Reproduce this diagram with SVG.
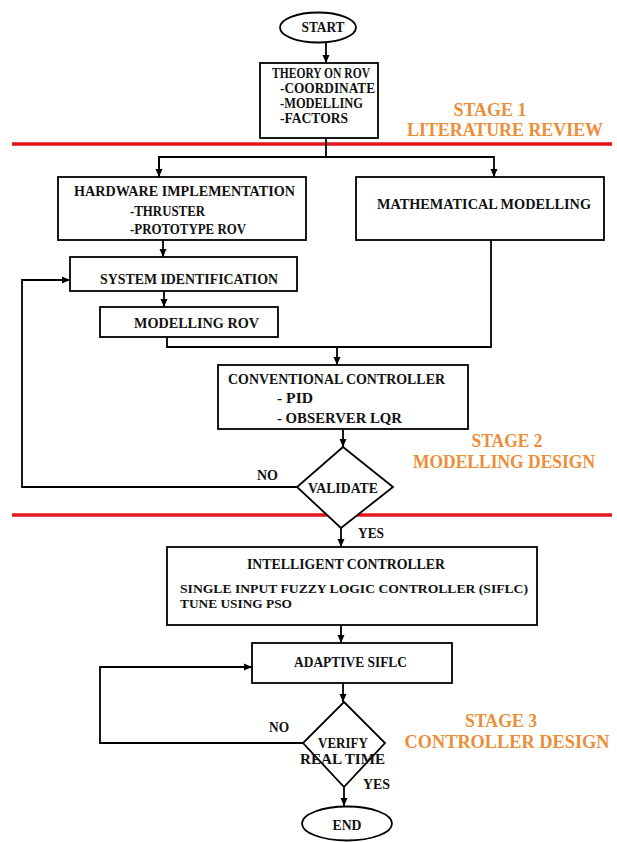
<svg xmlns="http://www.w3.org/2000/svg" width="617" height="842" viewBox="0 0 617 842">
<defs>
<marker id="arr" markerWidth="8" markerHeight="8" refX="8" refY="4" orient="auto" markerUnits="userSpaceOnUse">
<path d="M0,0.5 L8,4 L0,7.5 z" fill="#000"/>
</marker>
<style>
.box{fill:#fff;stroke:#000;stroke-width:1.8}
.t{font-family:"Liberation Serif","Times New Roman",serif;font-weight:bold;font-size:14.5px;fill:#111}
.s{font-size:13px}
.c{text-anchor:middle}
.st{font-family:"Liberation Serif","Times New Roman",serif;font-weight:bold;font-size:19px;fill:#EC8E38;text-anchor:middle}
.ln{fill:none;stroke:#000;stroke-width:1.8}
.red{stroke:#E3161E;stroke-width:3.5}
</style>
</defs>
<rect width="617" height="842" fill="#fff"/>

<g id="separators">
<line class="red" x1="12" y1="144" x2="612" y2="144"/>
<line class="red" x1="12" y1="515" x2="612" y2="515"/>
</g>

<g id="connectors">
<line class="ln" x1="326" y1="42" x2="326" y2="63" marker-end="url(#arr)"/>
<polyline class="ln" points="326,138 326,157"/>
<polyline class="ln" points="159,177 159,157 494,157 494,177" marker-end="url(#arr)"/>
<line class="ln" x1="159" y1="157" x2="159" y2="177" marker-end="url(#arr)"/>
<line class="ln" x1="163" y1="240" x2="163" y2="257" marker-end="url(#arr)"/>
<line class="ln" x1="164" y1="291" x2="164" y2="307" marker-end="url(#arr)"/>
<polyline class="ln" points="167,337 167,347 491,347 491,240"/>
<line class="ln" x1="337" y1="347" x2="337" y2="365" marker-end="url(#arr)"/>
<line class="ln" x1="343" y1="429" x2="343" y2="447" marker-end="url(#arr)"/>
<polyline class="ln" points="297,487 22,487 22,280 70,280" marker-end="url(#arr)"/>
<line class="ln" x1="341" y1="528" x2="341" y2="547" marker-end="url(#arr)"/>
<line class="ln" x1="341" y1="625" x2="341" y2="643" marker-end="url(#arr)"/>
<line class="ln" x1="343" y1="683" x2="343" y2="702" marker-end="url(#arr)"/>
<polyline class="ln" points="303,743 100,743 100,667 252,667" marker-end="url(#arr)"/>
<line class="ln" x1="344" y1="787" x2="344" y2="806" marker-end="url(#arr)"/>
<text class="t" x="257" y="480" textLength="21" lengthAdjust="spacingAndGlyphs">NO</text>
<text class="t" x="358" y="538" textLength="26" lengthAdjust="spacingAndGlyphs">YES</text>
<text class="t" x="269" y="732" textLength="20" lengthAdjust="spacingAndGlyphs">NO</text>
<text class="t" x="363" y="789" textLength="27" lengthAdjust="spacingAndGlyphs">YES</text>
</g>

<g id="start">
<ellipse class="box" cx="318" cy="27.5" rx="38" ry="15"/>
<text class="t c" x="323" y="32" textLength="43" lengthAdjust="spacingAndGlyphs">START</text>
</g>

<g id="theory">
<rect class="box" x="260" y="63" width="118" height="75"/>
<text class="t" x="272" y="78" textLength="98" lengthAdjust="spacingAndGlyphs">THEORY ON ROV</text>
<text class="t" x="280" y="93" textLength="95" lengthAdjust="spacingAndGlyphs">-COORDINATE</text>
<text class="t" x="280" y="108" textLength="83" lengthAdjust="spacingAndGlyphs">-MODELLING</text>
<text class="t" x="280" y="123" textLength="68" lengthAdjust="spacingAndGlyphs">-FACTORS</text>
</g>

<g id="stage1">
<text class="st" x="490" y="116" textLength="73" lengthAdjust="spacingAndGlyphs">STAGE 1</text>
<text class="st" x="505" y="136" textLength="196" lengthAdjust="spacingAndGlyphs">LITERATURE REVIEW</text>
</g>

<g id="hardware">
<rect class="box" x="58" y="177" width="248" height="63"/>
<text class="t" x="74" y="196" textLength="221" lengthAdjust="spacingAndGlyphs">HARDWARE IMPLEMENTATION</text>
<text class="t" x="130" y="216" textLength="75" lengthAdjust="spacingAndGlyphs">-THRUSTER</text>
<text class="t" x="130" y="234" textLength="116" lengthAdjust="spacingAndGlyphs">-PROTOTYPE ROV</text>
</g>

<g id="math">
<rect class="box" x="356" y="177" width="248" height="63"/>
<text class="t" x="377" y="209" textLength="214" lengthAdjust="spacingAndGlyphs">MATHEMATICAL MODELLING</text>
</g>

<g id="sysid">
<rect class="box" x="70" y="257" width="227" height="34"/>
<text class="t" x="100" y="284" textLength="178" lengthAdjust="spacingAndGlyphs">SYSTEM IDENTIFICATION</text>
</g>

<g id="modrov">
<rect class="box" x="100" y="307" width="178" height="30"/>
<text class="t" x="134" y="328" textLength="125" lengthAdjust="spacingAndGlyphs">MODELLING ROV</text>
</g>

<g id="conventional">
<rect class="box" x="218" y="365" width="250" height="64"/>
<text class="t" x="228" y="384" textLength="217" lengthAdjust="spacingAndGlyphs">CONVENTIONAL CONTROLLER</text>
<text class="t" x="277" y="403" textLength="36" lengthAdjust="spacingAndGlyphs">- PID</text>
<text class="t" x="277" y="423" textLength="125" lengthAdjust="spacingAndGlyphs">- OBSERVER LQR</text>
</g>

<g id="validate">
<polygon class="box" points="343,447 393,487 341,528 297,487"/>
<text class="t" x="308" y="493" textLength="70" lengthAdjust="spacingAndGlyphs">VALIDATE</text>
</g>

<g id="stage2">
<text class="st" x="507" y="447" textLength="71" lengthAdjust="spacingAndGlyphs">STAGE 2</text>
<text class="st" x="504" y="468" textLength="182" lengthAdjust="spacingAndGlyphs">MODELLING DESIGN</text>
</g>

<g id="intelligent">
<rect class="box" x="167" y="547" width="370" height="78"/>
<text class="t" x="247" y="569" textLength="198" lengthAdjust="spacingAndGlyphs">INTELLIGENT CONTROLLER</text>
<text class="t s" x="180" y="593" textLength="348" lengthAdjust="spacingAndGlyphs">SINGLE INPUT FUZZY LOGIC CONTROLLER (SIFLC)</text>
<text class="t s" x="180" y="608" textLength="112" lengthAdjust="spacingAndGlyphs">TUNE USING PSO</text>
</g>

<g id="adaptive">
<rect class="box" x="252" y="643" width="200" height="40"/>
<text class="t" x="294" y="667" textLength="113" lengthAdjust="spacingAndGlyphs">ADAPTIVE SIFLC</text>
</g>

<g id="verify">
<polygon class="box" points="344,702 385,743 344,787 303,743"/>
<text class="t" x="318" y="748" textLength="50" lengthAdjust="spacingAndGlyphs">VERIFY</text>
<text class="t" x="300" y="764" textLength="85" lengthAdjust="spacingAndGlyphs">REAL TIME</text>
</g>

<g id="stage3">
<text class="st" x="501" y="727" textLength="72" lengthAdjust="spacingAndGlyphs">STAGE 3</text>
<text class="st" x="507" y="748" textLength="205" lengthAdjust="spacingAndGlyphs">CONTROLLER DESIGN</text>
</g>

<g id="end">
<ellipse class="box" cx="347" cy="823.5" rx="45" ry="17"/>
<text class="t c" x="347" y="830" textLength="29" lengthAdjust="spacingAndGlyphs">END</text>
</g>
</svg>
